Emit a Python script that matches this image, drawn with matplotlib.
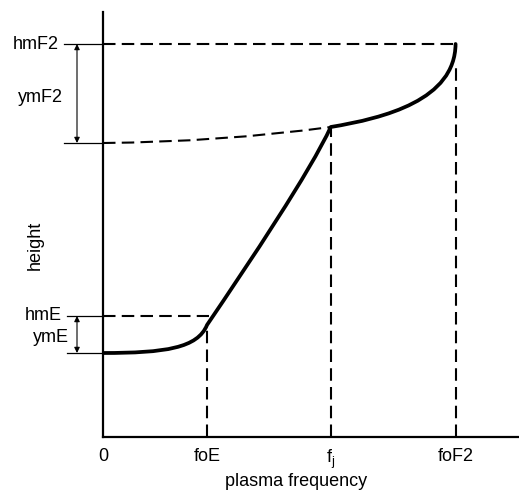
import matplotlib
matplotlib.use('Agg')
from matplotlib import pyplot as plt
from matplotlib.path import Path
from matplotlib.patches import PathPatch

plt.rcParams['font.family'] = ['Liberation Sans', 'DejaVu Sans']
plt.rcParams['mathtext.fontset'] = 'custom'
plt.rcParams['mathtext.rm'] = 'Liberation Sans'
plt.rcParams['mathtext.it'] = 'Liberation Sans'

# critical frequencies (arbitrary units) and heights (arbitrary units)
foE, fj, foF2 = 1.0, 2.19, 3.39
h_Ebottom, hmE, h_F1, h_fj, hmF2 = 84, 121, 294, 310, 393
h_foE = 108

freq_ticks = [0, foE, fj, foF2]
freq_labels = ['0', 'foE', r'f$_{\mathrm{j}}$', 'foF2']

# profile, as bezier control points (freq, height)
E_ctrl = [(0, h_Ebottom), (0.60, 84), (0.91, 89), (foE, 112)]
EF_ctrl = [(foE, 112), (1.41, 175), (1.99, 265), (fj, h_fj)]
F2_ctrl = [(fj, h_fj), (2.71, 319), (3.385, 337), (foF2, hmF2)]
# dashed F1 continuation back to the height axis
F1_ctrl = [(0, h_F1), (1.125, 295), (fj, h_fj)]

fig = plt.figure(figsize=(5.19, 4.91), dpi=100)
ax = fig.add_axes([103 / 519, 54 / 491, 416 / 519, 425 / 491])
ax.set_xlim(0, 4.0)
ax.set_ylim(0, 425)

for s in ['top', 'right']:
    ax.spines[s].set_visible(False)
for s in ['left', 'bottom']:
    ax.spines[s].set_linewidth(1.6)

# solid profile
verts = E_ctrl + EF_ctrl[1:] + F2_ctrl[1:]
codes = [Path.MOVETO] + [Path.CURVE4] * 9
ax.add_patch(PathPatch(Path(verts, codes), fill=False, lw=2.7, ec='black', capstyle='round', joinstyle='round'))

dash = dict(color='black', lw=1.5, dashes=(6, 3))
ax.add_patch(PathPatch(Path(F1_ctrl, [Path.MOVETO, Path.CURVE3, Path.CURVE3]), fill=False, ec='black', lw=1.5,
                       linestyle=(0, (6, 3))))
ax.plot([0, foF2], [hmF2, hmF2], **dash)
ax.plot([0, foE + 0.02], [hmE, hmE], **dash)
ax.plot([foF2, foF2], [0, hmF2 - 20], **dash)
ax.plot([fj, fj], [0, h_fj], **dash)
ax.plot([foE, foE], [0, h_foE], **dash)

# left ticks and thickness arrows
for h, x0 in [(hmF2, -0.375), (h_F1, -0.375), (hmE, -0.35), (h_Ebottom, -0.35)]:
    ax.plot([x0, 0], [h, h], color='black', lw=0.9, clip_on=False)
for top, bot in [(hmF2, h_F1), (hmE, h_Ebottom)]:
    ax.annotate('', xy=(-0.25, top), xytext=(-0.25, bot), annotation_clip=False,
                arrowprops=dict(arrowstyle='<|-|>', lw=0.8, color='black', mutation_scale=8, shrinkA=0, shrinkB=0))

fs = 13
ax.text(-0.43, hmF2, 'hmF2', ha='right', va='center', fontsize=fs)
ax.text(-0.39, 340, 'ymF2', ha='right', va='center', fontsize=fs)
ax.text(-0.40, hmE, 'hmE', ha='right', va='center', fontsize=fs)
ax.text(-0.33, 99, 'ymE', ha='right', va='center', fontsize=fs)
ax.text(-0.654, 192, 'height', ha='center', va='center', rotation=90, fontsize=fs)

ax.set_xticks(freq_ticks)
ax.set_xticklabels(freq_labels, fontsize=fs)
ax.tick_params(axis='x', length=0, pad=8)
ax.set_yticks([])
ax.text(1.86, -49, 'plasma frequency', ha='center', va='baseline', fontsize=fs)

fig.savefig('out.png', dpi=100)
